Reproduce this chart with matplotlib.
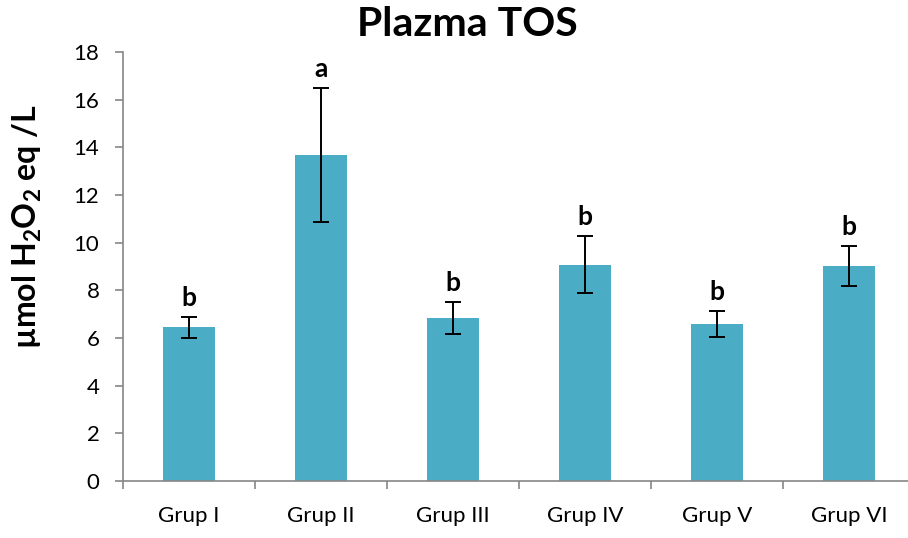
import matplotlib.pyplot as plt

groups = ["Grup I", "Grup II", "Grup III", "Grup IV", "Grup V", "Grup VI"]
means = [6.45, 13.68, 6.85, 9.07, 6.6, 9.02]
errors = [0.45, 2.8, 0.68, 1.2, 0.55, 0.84]
letters = ["b", "a", "b", "b", "b", "b"]

plt.rcParams['font.family'] = ['Lato', 'DejaVu Sans']
plt.rcParams['mathtext.fontset'] = 'custom'
plt.rcParams['mathtext.bf'] = 'Lato:bold'
plt.rcParams['mathtext.rm'] = 'Lato:bold'

fig = plt.figure(figsize=(9.08, 5.38), dpi=100)
ax = fig.add_axes([123 / 908, 57 / 538, 792 / 908, 429 / 538])

x = range(len(groups))
ax.bar(x, means, width=0.4, color='#4BACC6', zorder=2)
ax.errorbar(x, means, yerr=errors, fmt='none', ecolor='black',
            elinewidth=1.4, capsize=6, capthick=1.4, zorder=3)

for i, (m, e, t) in enumerate(zip(means, errors, letters)):
    ax.annotate(t, (i, m + e), xytext=(0, 5), textcoords='offset points',
                ha='center', va='bottom', fontsize=19, fontweight='bold')

ax.set_xlim(-0.5, len(groups) - 0.5)
ax.set_ylim(0, 18)
ax.set_yticks(range(0, 19, 2))
ax.set_xticks(x)
ax.set_xticklabels(groups, fontsize=16)
ax.set_xticks([i - 0.5 for i in range(len(groups) + 1)], minor=True)
ax.tick_params(axis='x', which='major', length=0, pad=18)
ax.tick_params(axis='x', which='minor', length=6, color='#868686', width=1.2)
ax.tick_params(axis='y', labelsize=16, length=6, color='#868686', width=1.2, pad=11)

for side in ['top', 'right']:
    ax.spines[side].set_visible(False)
for side in ['left', 'bottom']:
    ax.spines[side].set_color('#868686')
    ax.spines[side].set_linewidth(1.2)

ax.set_ylabel(r'µmol H$_\mathbf{2}$O$_\mathbf{2}$ eq /L', fontsize=23,
              fontweight='bold')
ax.yaxis.set_label_coords(-0.10, 0.594)
fig.text(467 / 908, 1 - 24 / 538, 'Plazma TOS', ha='center', va='center',
         fontsize=29.5, fontweight='bold')

fig.savefig('out.png', dpi=100)
